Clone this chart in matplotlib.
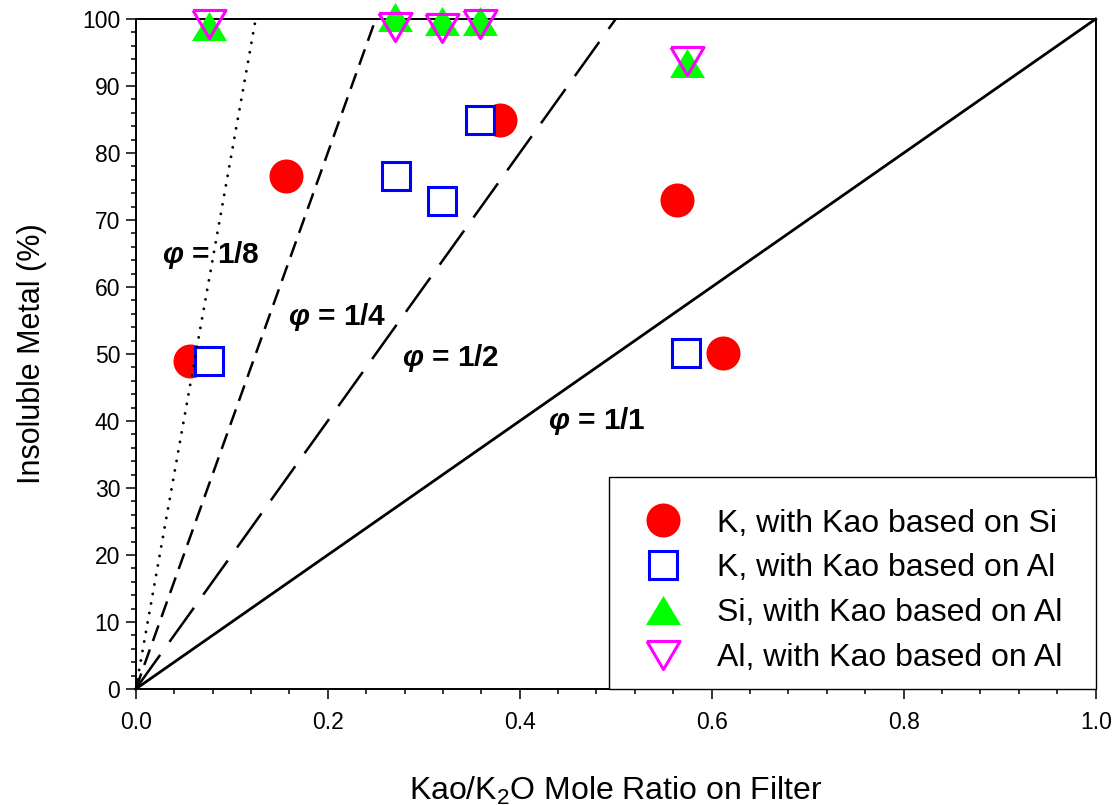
import numpy as np
import matplotlib
matplotlib.use("Agg")
import matplotlib.pyplot as plt
from matplotlib.ticker import MultipleLocator, FormatStrFormatter

plt.rcParams['font.family'] = ['Liberation Sans', 'DejaVu Sans']
plt.rcParams['mathtext.fontset'] = 'custom'
plt.rcParams['mathtext.rm'] = 'Liberation Sans'
plt.rcParams['mathtext.it'] = 'Liberation Sans:italic:bold'
plt.rcParams['mathtext.bf'] = 'Liberation Sans:bold'

# --- data ---
k_si_x = [0.057, 0.157, 0.380, 0.5635, 0.612]
k_si_y = [48.9, 76.6, 84.9, 73.0, 50.2]

k_al_x = [0.0767, 0.271, 0.319, 0.359, 0.5736]
k_al_y = [48.9, 76.6, 72.9, 84.9, 50.2]

si_al_x = [0.0764, 0.2704, 0.319, 0.3586, 0.574]
si_al_y = [99.0, 100.3, 99.7, 99.7, 93.4]

al_al_x = [0.0764, 0.2704, 0.319, 0.3586, 0.574]
al_al_y = [99.3, 98.8, 98.7, 99.3, 93.8]

# reference lines y = 100 * x / phi
phi_values = [1.0, 1 / 2, 1 / 4, 1 / 8]
phi_labels = ['1/1', '1/2', '1/4', '1/8']
phi_label_x = [0.4295, 0.277, 0.159, 0.0277]
phi_label_y = [38.8, 48.2, 54.3, 63.6]
phi_styles = ['-', (0, (16.8, 6.4)), (0, (6.6, 3.6)), (0, (0.01, 3.3))]
phi_widths = [2.0, 1.8, 1.8, 2.1]

legend_labels = ['K, with Kao based on Si', 'K, with Kao based on Al',
                 'Si, with Kao based on Al', 'Al, with Kao based on Al']

# triangle markers a little flatter than matplotlib's default
tri_up = [(-1, -0.83), (1, -0.83), (0, 0.83), (-1, -0.83)]
tri_down = [(-1, 0.85), (1, 0.85), (0, -0.85), (-1, 0.85)]

fig = plt.figure(figsize=(11.16, 8.05), dpi=100)
ax = fig.add_axes([0.1216, 0.1441, 0.8602, 0.8323])

for phi, ls, lw in zip(phi_values, phi_styles, phi_widths):
    ax.plot([0, phi], [0, 100], color='black', linestyle=ls, linewidth=lw,
            dash_capstyle='round' if ls == phi_styles[-1] else 'butt',
            zorder=6, clip_on=False)

for lab, tx, ty in zip(phi_labels, phi_label_x, phi_label_y):
    ax.text(tx, ty, r'$\mathit{\varphi}$ = ' + lab, fontsize=21.5,
            fontweight='bold', ha='left', va='baseline', zorder=7)

h1, = ax.plot(k_si_x, k_si_y, linestyle='none', marker='o', markersize=24.5,
              markerfacecolor='#FF0000', markeredgewidth=0, zorder=3, clip_on=False)
h2, = ax.plot(k_al_x, k_al_y, linestyle='none', marker='s', markersize=20.7,
              markerfacecolor='white', markeredgecolor='#0000FF',
              markeredgewidth=2.2, zorder=4, clip_on=False)
h3, = ax.plot(si_al_x, si_al_y, linestyle='none', marker=tri_up, markersize=25.2,
              markerfacecolor='#00FF00', markeredgewidth=0, zorder=4.5, clip_on=False)
h4, = ax.plot(al_al_x, al_al_y, linestyle='none', marker=tri_down, markersize=23.8,
              markerfacecolor='none', markeredgecolor='#FF00FF',
              markeredgewidth=2.2, zorder=5, clip_on=False)

ax.set_xlim(0, 1.0)
ax.set_ylim(0, 100)
ax.xaxis.set_major_locator(MultipleLocator(0.2))
ax.xaxis.set_minor_locator(MultipleLocator(0.04))
ax.yaxis.set_major_locator(MultipleLocator(10))
ax.yaxis.set_minor_locator(MultipleLocator(2))
ax.xaxis.set_major_formatter(FormatStrFormatter('%.1f'))
ax.yaxis.set_major_formatter(FormatStrFormatter('%d'))
ax.tick_params(which='major', direction='out', length=7.2, width=1.1,
               labelsize=16.5, pad=4)
ax.tick_params(which='minor', direction='out', length=3.6, width=1.1)
ax.tick_params(axis='x', which='major', pad=9)
for sp in ax.spines.values():
    sp.set_linewidth(1.4)

ax.set_xlabel('Kao/K$_2$O Mole Ratio on Filter', fontsize=23, labelpad=29)
ax.set_ylabel('Insoluble Metal (%)', fontsize=22, labelpad=25)

# tiny blank title pushes the rows down, as in the original box
leg = ax.legend([h1, h2, h3, h4], legend_labels, loc='lower left',
                bbox_to_anchor=(0.493, 0.0, 0.507, 0.316), mode='expand',
                borderaxespad=0, fontsize=23, numpoints=1, fancybox=False,
                framealpha=1, edgecolor='black', borderpad=0.51,
                labelspacing=0.46, handlelength=2.34, handletextpad=0.53,
                title=' ', title_fontsize=1)
leg.get_frame().set_linewidth(1.0)
leg.set_zorder(8)

fig.savefig('out.png', dpi=100)
